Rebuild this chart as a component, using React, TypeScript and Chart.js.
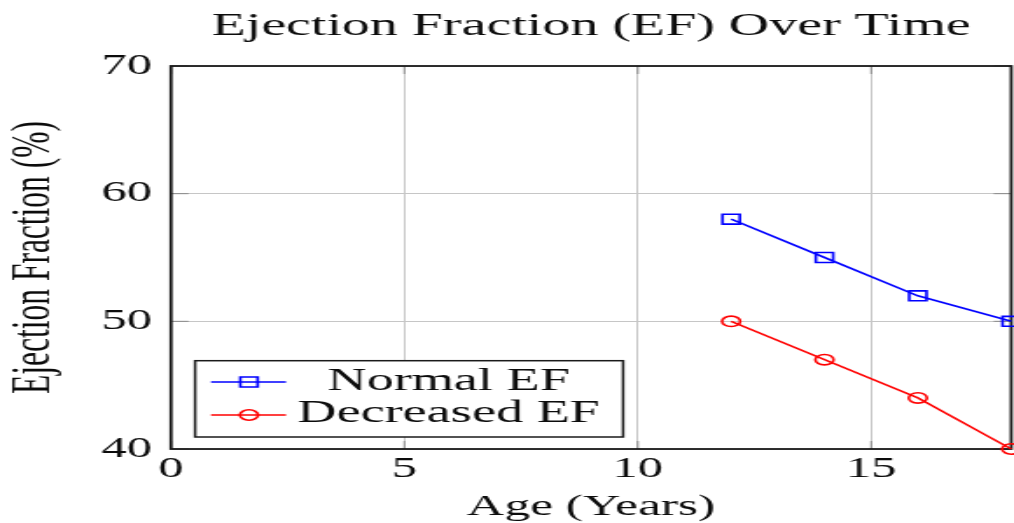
import React, { useEffect, useRef } from 'react';
import { Chart, registerables } from 'chart.js';

Chart.register(...registerables);

// ---- data ----
const titleText = 'Ejection Fraction (EF) Over Time';
const xTitleText = 'Age (Years)';
const yTitleText = 'Ejection Fraction (%)';
const seriesNames = ['Normal EF', 'Decreased EF'];
const ages = [12, 14, 16, 18];
const normalEF = [58, 55, 52, 50];
const decreasedEF = [50, 47, 44, 40];
const xTickValues = [0, 5, 10, 15];
const yTickValues = [40, 50, 60, 70];

// internal canvas size (stretched horizontally by CSS like the reference)
const W = 580;
const H = 523;
const SERIF = '"Liberation Serif", "Times New Roman", serif';
const TEXT = '#0c0c0c';

const framePlugin = {
  id: 'pgfFrame',
  beforeDatasetsDraw(chart: any) {
    const { ctx, chartArea: a, scales } = chart;
    ctx.save();
    ctx.strokeStyle = '#8a8a8a';
    ctx.lineWidth = 1;
    ctx.beginPath();
    scales.x.ticks.forEach((t: any) => {
      const px = scales.x.getPixelForValue(t.value);
      ctx.moveTo(px, a.bottom);
      ctx.lineTo(px, a.bottom - 8);
      ctx.moveTo(px, a.top);
      ctx.lineTo(px, a.top + 8);
    });
    scales.y.ticks.forEach((t: any) => {
      const py = scales.y.getPixelForValue(t.value);
      ctx.moveTo(a.left, py);
      ctx.lineTo(a.left + 10, py);
      ctx.moveTo(a.right, py);
      ctx.lineTo(a.right - 10, py);
    });
    ctx.stroke();
    ctx.strokeStyle = '#1a1a1a';
    ctx.lineWidth = 1.8;
    ctx.strokeRect(a.left, a.top, a.right - a.left, a.bottom - a.top);
    ctx.restore();
  },
  afterDraw(chart: any) {
    const { ctx, chartArea: a } = chart;
    ctx.save();
    // title
    ctx.fillStyle = TEXT;
    ctx.font = `32px ${SERIF}`;
    ctx.textAlign = 'center';
    ctx.textBaseline = 'alphabetic';
    ctx.fillText(titleText, (a.left + a.right) / 2, 35);

    // legend box
    const bx = a.left + 13.8;
    const by = a.bottom - 88.3;
    const bw = 244.8;
    const bh = 76.3;
    ctx.fillStyle = '#ffffff';
    ctx.fillRect(bx, by, bw, bh);
    ctx.strokeStyle = '#1a1a1a';
    ctx.lineWidth = 1.5;
    ctx.strokeRect(bx, by, bw, bh);

    const rowsY = [a.bottom - 67, a.bottom - 34];
    const baselines = [a.bottom - 59, a.bottom - 27];
    chart.data.datasets.forEach((ds: any, i: number) => {
      const y = rowsY[i];
      const x1 = a.left + 22.9;
      const x2 = a.left + 65.8;
      const mx = a.left + 44.6;
      ctx.strokeStyle = ds.borderColor;
      ctx.lineWidth = ds.borderWidth;
      ctx.beginPath();
      ctx.moveTo(x1, y);
      ctx.lineTo(x2, y);
      ctx.stroke();
      ctx.beginPath();
      if (ds.pointStyle === 'rect') {
        const s = Math.SQRT1_2 * ds.pointRadius;
        ctx.rect(mx - s, y - s, 2 * s, 2 * s);
      } else {
        ctx.arc(mx, y, ds.pointRadius, 0, Math.PI * 2);
      }
      ctx.lineWidth = ds.pointBorderWidth;
      ctx.stroke();
      ctx.fillStyle = TEXT;
      ctx.font = `31px ${SERIF}`;
      ctx.textAlign = 'center';
      ctx.textBaseline = 'alphabetic';
      ctx.fillText(ds.label, a.left + 158.8, baselines[i]);
    });
    ctx.restore();
  },
};

export default function App() {
  const canvasRef = useRef<HTMLCanvasElement | null>(null);

  useEffect(() => {
    const canvas = canvasRef.current;
    if (!canvas) return;
    const toPoints = (vals: number[]) => ages.map((a, i) => ({ x: a, y: vals[i] }));
    const chart = new Chart(canvas, {
      type: 'line',
      data: {
        datasets: [
          {
            label: seriesNames[0],
            data: toPoints(normalEF),
            borderColor: '#0000ff',
            backgroundColor: 'rgba(0,0,0,0)',
            borderWidth: 1.6,
            pointStyle: 'rect',
            pointRadius: 7,
            pointBorderWidth: 1.6,
            pointBackgroundColor: 'rgba(0,0,0,0)',
            pointBorderColor: '#0000ff',
            tension: 0,
            clip: false as any,
          },
          {
            label: seriesNames[1],
            data: toPoints(decreasedEF),
            borderColor: '#ff0000',
            backgroundColor: 'rgba(0,0,0,0)',
            borderWidth: 1.6,
            pointStyle: 'circle',
            pointRadius: 5.2,
            pointBorderWidth: 1.6,
            pointBackgroundColor: 'rgba(0,0,0,0)',
            pointBorderColor: '#ff0000',
            tension: 0,
            clip: false as any,
          },
        ],
      },
      options: {
        animation: false,
        responsive: false,
        devicePixelRatio: 1,
        events: [],
        layout: { autoPadding: false, padding: { left: 0, right: 1.6, top: 66, bottom: 0 } },
        plugins: {
          legend: { display: false },
          title: { display: false },
          tooltip: { enabled: false },
        },
        scales: {
          x: {
            type: 'linear',
            min: 0,
            max: 18,
            afterBuildTicks: (s: any) => {
              s.ticks = xTickValues.map((v) => ({ value: v }));
            },
            afterFit: (s: any) => {
              s.height = 74;
              s.paddingLeft = 0;
              s.paddingRight = 0;
            },
            grid: { color: '#c6c6c6', lineWidth: 1, drawTicks: false },
            border: { display: false },
            ticks: {
              padding: 5.5,
              color: TEXT,
              font: { family: SERIF, size: 29, lineHeight: 1 },
              maxRotation: 0,
            },
            title: {
              display: true,
              text: xTitleText,
              color: TEXT,
              padding: 0,
              font: { family: SERIF, size: 29.5, lineHeight: 1.08 },
            },
          },
          y: {
            type: 'linear',
            min: 40,
            max: 70,
            afterBuildTicks: (s: any) => {
              s.ticks = yTickValues.map((v) => ({ value: v }));
            },
            afterFit: (s: any) => {
              s.width = 97.8;
              s.paddingTop = 0;
              s.paddingBottom = 0;
            },
            grid: { color: '#c6c6c6', lineWidth: 1, drawTicks: false },
            border: { display: false },
            ticks: {
              padding: 10.8,
              color: TEXT,
              font: { family: SERIF, size: 29, lineHeight: 1 },
            },
            title: {
              display: true,
              text: yTitleText,
              color: TEXT,
              padding: 0,
              font: { family: SERIF, size: 31.5, lineHeight: 1.28 },
            },
          },
        },
      },
      plugins: [framePlugin],
    } as any);
    return () => {
      chart.destroy();
    };
  }, []);

  return (
    <div
      style={{
        position: 'absolute',
        left: 0,
        top: 0,
        width: '1014px',
        height: '523px',
        background: '#ffffff',
        overflow: 'hidden',
      }}
    >
      <canvas
        ref={canvasRef}
        width={W}
        height={H}
        style={{ width: '1014px', height: '523px', display: 'block' }}
      />
    </div>
  );
}
